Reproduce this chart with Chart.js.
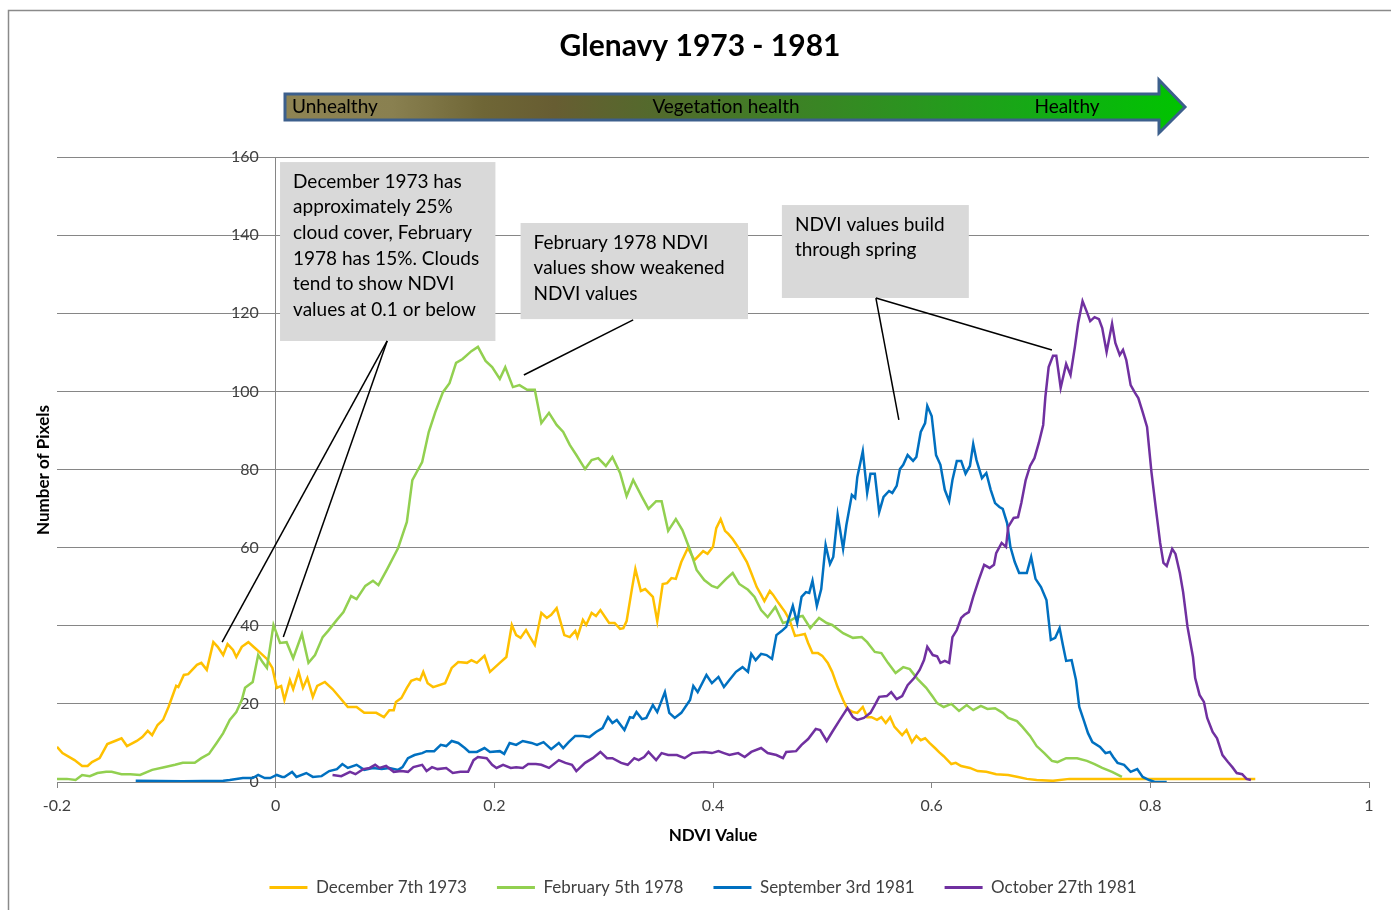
<!DOCTYPE html>
<html><head><meta charset="utf-8">
<script src="https://cdn.jsdelivr.net/npm/chart.js@4.4.1/dist/chart.umd.min.js"></script>
<style>html,body{margin:0;padding:0;background:#fff;}canvas{display:block;}</style>
</head><body>
<canvas id="c" width="1391" height="910"></canvas>
<script>
// ---------- DATA ----------
const xTickValues = [-0.2, 0, 0.2, 0.4, 0.6, 0.8, 1];
const xTickLabels = ['-0.2', '0', '0.2', '0.4', '0.6', '0.8', '1'];
const yTickValues = [0, 20, 40, 60, 80, 100, 120, 140, 160];
const seriesNames = ['December 7th 1973', 'February 5th 1978', 'September 3rd 1981', 'October 27th 1981'];

// [NDVI value, number of pixels]
const dec1973 = [[-0.200,9.0],[-0.195,7.4],[-0.184,5.6],[-0.177,4.1],[-0.172,4.1],[-0.168,5.1],[-0.161,6.1],[-0.154,9.7],[-0.147,10.5],[-0.141,11.2],[-0.136,9.2],[-0.127,10.5],[-0.122,11.5],[-0.117,13.1],[-0.113,12.0],[-0.108,14.6],[-0.103,15.9],[-0.098,19.2],[-0.091,24.6],[-0.089,24.3],[-0.084,27.4],[-0.080,27.6],[-0.072,30.0],[-0.068,30.5],[-0.063,28.7],[-0.057,35.8],[-0.053,34.6],[-0.048,32.5],[-0.044,35.3],[-0.039,33.8],[-0.036,32.0],[-0.031,34.6],[-0.025,35.8],[-0.019,34.3],[-0.015,33.3],[-0.008,31.5],[-0.003,29.2],[0.001,24.1],[0.005,24.6],[0.008,21.0],[0.013,26.1],[0.016,23.8],[0.021,28.2],[0.025,24.1],[0.029,26.6],[0.034,21.8],[0.038,24.6],[0.045,25.6],[0.052,23.8],[0.059,21.5],[0.066,19.2],[0.074,19.2],[0.081,17.7],[0.092,17.7],[0.099,16.6],[0.104,18.4],[0.108,18.4],[0.110,20.5],[0.115,21.5],[0.120,24.1],[0.124,25.9],[0.129,26.4],[0.132,26.1],[0.135,28.2],[0.139,25.3],[0.144,24.3],[0.155,25.3],[0.161,29.2],[0.167,30.7],[0.175,30.5],[0.179,31.2],[0.184,30.5],[0.191,32.3],[0.196,28.2],[0.200,29.2],[0.205,30.5],[0.211,32.0],[0.216,40.2],[0.220,37.6],[0.224,36.9],[0.229,38.9],[0.232,37.4],[0.237,35.1],[0.243,43.3],[0.248,42.0],[0.252,42.8],[0.257,44.5],[0.264,37.6],[0.269,37.1],[0.274,38.7],[0.276,37.1],[0.281,41.5],[0.284,40.2],[0.289,43.3],[0.293,42.5],[0.297,44.0],[0.305,40.7],[0.310,40.7],[0.315,39.2],[0.318,39.4],[0.321,41.2],[0.326,49.7],[0.329,54.5],[0.334,48.9],[0.338,49.4],[0.345,47.4],[0.349,41.2],[0.354,50.7],[0.358,50.9],[0.362,52.2],[0.366,52.0],[0.371,56.3],[0.377,59.9],[0.383,56.8],[0.391,59.1],[0.395,58.4],[0.400,60.2],[0.403,65.0],[0.407,67.3],[0.411,64.3],[0.414,63.5],[0.418,62.2],[0.424,59.7],[0.431,56.3],[0.435,53.5],[0.440,49.9],[0.444,47.9],[0.447,46.3],[0.452,48.9],[0.455,47.9],[0.460,45.8],[0.466,43.5],[0.470,41.5],[0.475,37.4],[0.479,37.6],[0.484,37.9],[0.487,35.6],[0.491,33.0],[0.496,33.0],[0.500,32.3],[0.505,30.5],[0.509,28.2],[0.514,24.3],[0.519,21.0],[0.523,18.7],[0.528,17.9],[0.532,17.7],[0.537,19.2],[0.541,16.6],[0.545,16.6],[0.550,15.9],[0.554,16.6],[0.558,15.1],[0.562,16.6],[0.566,14.1],[0.573,12.0],[0.577,13.3],[0.582,10.2],[0.586,11.8],[0.590,10.7],[0.594,11.2],[0.598,10.0],[0.603,8.7],[0.607,7.6],[0.611,6.6],[0.618,4.6],[0.622,4.9],[0.627,4.1],[0.635,3.6],[0.642,2.8],[0.650,2.6],[0.659,2.0],[0.670,1.8],[0.679,1.3],[0.687,0.8],[0.696,0.5],[0.711,0.3],[0.726,0.8],[0.760,0.8],[0.800,0.8],[0.850,0.8],[0.896,0.8]];

const feb1978 = [[-0.200,0.8],[-0.191,0.8],[-0.183,0.5],[-0.177,1.8],[-0.170,1.5],[-0.163,2.3],[-0.155,2.6],[-0.150,2.6],[-0.141,2.0],[-0.133,2.0],[-0.124,1.8],[-0.113,3.1],[-0.102,3.8],[-0.092,4.4],[-0.085,4.9],[-0.074,4.9],[-0.068,6.1],[-0.061,7.2],[-0.054,10.0],[-0.048,12.5],[-0.042,15.9],[-0.036,17.9],[-0.031,21.0],[-0.028,24.1],[-0.021,25.6],[-0.016,32.5],[-0.012,30.7],[-0.008,29.2],[-0.002,40.2],[0.004,35.6],[0.010,35.8],[0.016,31.7],[0.024,37.9],[0.030,30.5],[0.036,32.5],[0.043,37.1],[0.048,38.7],[0.056,41.5],[0.062,43.5],[0.069,47.6],[0.074,46.8],[0.082,50.2],[0.089,51.5],[0.094,50.4],[0.102,54.5],[0.112,59.9],[0.120,66.6],[0.125,77.3],[0.134,81.9],[0.140,89.6],[0.146,94.7],[0.153,99.8],[0.159,102.1],[0.165,107.3],[0.171,108.3],[0.179,110.3],[0.185,111.4],[0.192,107.8],[0.198,106.2],[0.205,103.2],[0.210,106.2],[0.217,101.1],[0.223,101.6],[0.230,100.4],[0.237,100.4],[0.243,91.9],[0.250,94.5],[0.257,91.4],[0.263,89.6],[0.269,86.3],[0.275,83.7],[0.283,80.1],[0.289,82.4],[0.295,82.9],[0.302,80.9],[0.308,83.2],[0.315,79.1],[0.321,73.2],[0.327,77.3],[0.335,73.0],[0.341,69.9],[0.348,71.9],[0.353,71.9],[0.359,64.3],[0.366,67.3],[0.372,64.5],[0.379,59.4],[0.385,54.3],[0.392,51.7],[0.399,50.2],[0.404,49.7],[0.412,52.0],[0.418,53.5],[0.424,50.7],[0.432,49.2],[0.438,47.4],[0.444,44.0],[0.450,42.2],[0.457,44.8],[0.464,40.7],[0.470,41.2],[0.476,42.2],[0.482,42.5],[0.489,39.4],[0.497,42.0],[0.504,40.7],[0.509,40.2],[0.519,38.1],[0.528,36.9],[0.536,37.1],[0.541,35.8],[0.548,33.3],[0.554,33.0],[0.560,30.5],[0.567,27.9],[0.574,29.4],[0.580,28.9],[0.587,26.4],[0.595,24.1],[0.601,21.8],[0.605,20.2],[0.611,19.2],[0.618,20.0],[0.625,18.2],[0.632,19.7],[0.638,18.4],[0.645,19.5],[0.651,18.7],[0.658,18.9],[0.665,17.7],[0.670,16.4],[0.678,15.6],[0.683,14.1],[0.690,11.8],[0.696,9.2],[0.703,7.4],[0.710,5.4],[0.715,5.1],[0.723,6.1],[0.733,6.1],[0.742,5.4],[0.749,4.6],[0.756,3.6],[0.765,2.6],[0.774,1.3]];

const sep1981 = [[-0.128,0.3],[-0.085,0.2],[-0.048,0.3],[-0.042,0.5],[-0.030,1.0],[-0.021,1.0],[-0.016,1.8],[-0.010,1.0],[-0.005,1.0],[0.001,1.8],[0.006,1.3],[0.008,1.3],[0.015,2.6],[0.019,1.3],[0.028,2.3],[0.034,1.3],[0.042,1.5],[0.049,2.8],[0.056,3.3],[0.061,4.6],[0.066,3.6],[0.074,4.4],[0.081,3.1],[0.089,3.6],[0.097,3.3],[0.104,3.6],[0.112,3.1],[0.116,3.8],[0.121,6.1],[0.127,6.9],[0.134,7.4],[0.138,7.9],[0.145,7.9],[0.151,9.5],[0.156,9.2],[0.161,10.5],[0.167,10.0],[0.173,8.7],[0.177,7.7],[0.184,7.7],[0.191,8.7],[0.196,7.7],[0.205,7.9],[0.209,7.2],[0.214,10.0],[0.220,9.5],[0.226,10.5],[0.234,10.0],[0.239,9.5],[0.245,10.2],[0.252,8.4],[0.259,10.0],[0.263,8.7],[0.268,10.2],[0.274,11.8],[0.281,11.8],[0.287,11.5],[0.293,12.8],[0.299,13.8],[0.304,16.6],[0.308,15.1],[0.312,15.9],[0.319,13.3],[0.324,16.6],[0.327,16.4],[0.330,17.9],[0.335,16.1],[0.339,16.4],[0.345,19.7],[0.349,17.9],[0.356,23.0],[0.360,17.7],[0.365,16.4],[0.371,17.7],[0.379,21.0],[0.382,24.6],[0.386,23.0],[0.394,27.4],[0.399,25.3],[0.405,26.9],[0.410,24.3],[0.415,26.1],[0.421,28.2],[0.427,29.4],[0.432,28.2],[0.435,32.8],[0.439,31.2],[0.444,32.8],[0.449,32.5],[0.454,31.5],[0.458,37.6],[0.463,38.7],[0.467,39.7],[0.473,45.1],[0.477,40.7],[0.481,47.4],[0.485,48.6],[0.488,48.4],[0.491,51.5],[0.495,45.1],[0.499,49.4],[0.503,60.7],[0.507,55.8],[0.510,57.6],[0.514,68.4],[0.519,59.7],[0.522,65.8],[0.527,73.5],[0.530,72.7],[0.532,78.1],[0.537,84.7],[0.541,74.0],[0.544,78.9],[0.548,78.9],[0.552,69.1],[0.556,73.0],[0.561,74.5],[0.564,74.0],[0.568,75.8],[0.571,80.1],[0.574,81.2],[0.578,83.7],[0.583,82.2],[0.586,83.2],[0.590,89.6],[0.594,91.9],[0.596,96.3],[0.600,93.7],[0.604,83.7],[0.608,81.2],[0.612,74.8],[0.616,71.9],[0.619,77.3],[0.623,82.2],[0.627,82.2],[0.631,78.9],[0.635,80.9],[0.638,86.5],[0.641,82.4],[0.646,77.8],[0.650,79.1],[0.654,74.8],[0.658,71.4],[0.662,70.4],[0.665,69.9],[0.669,66.3],[0.672,60.2],[0.676,56.3],[0.680,53.5],[0.687,53.5],[0.691,57.6],[0.695,52.0],[0.700,49.9],[0.705,46.6],[0.709,36.4],[0.713,36.9],[0.717,39.4],[0.720,35.1],[0.723,31.0],[0.728,31.2],[0.732,26.1],[0.735,19.2],[0.739,15.9],[0.743,12.5],[0.747,10.2],[0.754,9.0],[0.759,7.4],[0.763,7.7],[0.766,6.4],[0.770,4.9],[0.776,4.4],[0.782,2.6],[0.788,3.3],[0.793,1.3],[0.799,0.5],[0.804,0.0],[0.815,0.0]];

const oct1981 = [[0.052,1.8],[0.060,1.5],[0.068,2.6],[0.073,2.0],[0.080,3.3],[0.086,3.6],[0.091,4.4],[0.095,3.6],[0.101,4.1],[0.108,2.6],[0.115,2.8],[0.121,2.6],[0.126,3.8],[0.134,4.4],[0.138,2.8],[0.143,3.8],[0.148,3.3],[0.156,3.6],[0.162,2.3],[0.169,2.6],[0.176,2.6],[0.181,5.6],[0.185,6.4],[0.193,6.1],[0.198,4.4],[0.202,3.6],[0.208,4.4],[0.215,3.6],[0.220,3.8],[0.226,3.6],[0.231,4.6],[0.238,4.6],[0.243,4.4],[0.250,3.6],[0.259,5.6],[0.265,4.9],[0.271,4.4],[0.275,2.8],[0.283,4.9],[0.290,6.1],[0.297,7.7],[0.303,6.1],[0.308,6.1],[0.316,4.9],[0.322,4.4],[0.328,6.1],[0.332,5.6],[0.337,6.4],[0.341,7.7],[0.348,5.6],[0.353,7.4],[0.359,6.9],[0.367,6.9],[0.374,6.1],[0.381,7.4],[0.392,7.7],[0.399,7.4],[0.405,7.9],[0.410,7.4],[0.415,6.9],[0.423,7.4],[0.429,6.4],[0.435,7.7],[0.444,8.7],[0.450,7.4],[0.458,6.9],[0.464,6.1],[0.467,7.7],[0.476,7.9],[0.481,9.5],[0.487,11.0],[0.494,13.6],[0.498,13.3],[0.504,10.5],[0.509,12.8],[0.516,15.9],[0.523,18.9],[0.528,16.6],[0.532,15.9],[0.538,16.4],[0.544,17.7],[0.548,19.7],[0.552,21.8],[0.559,22.0],[0.563,23.0],[0.568,21.2],[0.573,22.0],[0.578,24.8],[0.584,26.6],[0.589,28.7],[0.593,31.2],[0.596,34.6],[0.601,32.5],[0.605,32.2],[0.608,30.5],[0.612,31.0],[0.616,30.5],[0.619,37.1],[0.623,38.9],[0.627,42.0],[0.630,42.8],[0.634,43.5],[0.638,47.4],[0.643,51.7],[0.648,55.6],[0.653,54.8],[0.657,55.6],[0.659,58.6],[0.664,61.2],[0.668,60.2],[0.670,65.3],[0.675,67.6],[0.679,67.8],[0.682,71.4],[0.686,77.3],[0.690,80.9],[0.694,82.9],[0.698,86.8],[0.702,91.4],[0.704,98.6],[0.707,106.2],[0.711,109.1],[0.714,109.1],[0.718,100.9],[0.723,107.0],[0.727,104.2],[0.731,111.4],[0.734,117.5],[0.738,123.1],[0.742,120.3],[0.745,118.0],[0.749,119.0],[0.753,118.5],[0.756,116.2],[0.760,110.1],[0.765,117.3],[0.768,112.4],[0.772,109.3],[0.775,110.6],[0.778,108.0],[0.782,101.6],[0.786,99.6],[0.789,98.3],[0.793,94.7],[0.797,90.9],[0.801,79.4],[0.805,70.1],[0.809,61.2],[0.812,56.1],[0.815,55.3],[0.820,59.7],[0.823,58.4],[0.827,53.5],[0.830,48.6],[0.834,39.7],[0.839,32.0],[0.841,26.6],[0.845,22.3],[0.849,20.5],[0.852,16.4],[0.857,12.8],[0.861,11.2],[0.866,6.9],[0.871,5.1],[0.875,3.8],[0.879,2.3],[0.884,2.0],[0.888,0.8],[0.892,0.5]];

const seriesData = [dec1973, feb1978, sep1981, oct1981];
const seriesColors = ['#FFC000', '#92D050', '#0070C0', '#7030A0'];

const titleText = 'Glenavy 1973 - 1981';
const xTitle = 'NDVI Value';
const yTitle = 'Number of Pixels';
const arrowLabels = ['Unhealthy', 'Vegetation health', 'Healthy'];
const noteTexts = [
  ['December 1973 has', 'approximately 25%', 'cloud cover, February', '1978 has 15%. Clouds', 'tend to show NDVI', 'values at 0.1 or below'],
  ['February 1978 NDVI', 'values show weakened', 'NDVI values'],
  ['NDVI values build', 'through spring']
];

// ---------- LAYOUT (annotation boxes in data units) ----------
const noteBoxes = [
  {x0: 0.004, x1: 0.201, yTop: 158.7, yBot: 112.9},
  {x0: 0.224, x1: 0.432, yTop: 143.1, yBot: 118.5},
  {x0: 0.463, x1: 0.634, yTop: 147.7, yBot: 123.9}
];
const noteLines = [
  [[0.102, 112.9], [-0.049, 35.8]],
  [[0.102, 112.9], [0.007, 37.1]],
  [[0.327, 118.3], [0.227, 104.2]],
  [[0.549, 123.9], [0.570, 92.7]],
  [[0.549, 123.9], [0.710, 110.6]]
];
const yLabelOffset = -0.0155; // y tick labels sit just left of the x = 0 axis line

const FONT = "Lato, 'Open Sans', 'DejaVu Sans', sans-serif";
Chart.defaults.font.family = FONT;

const deco = {
  id: 'deco',
  beforeDraw(chart) {
    const ctx = chart.ctx;
    ctx.save();
    ctx.fillStyle = '#fff';
    ctx.fillRect(0, 0, chart.width, chart.height);
    ctx.strokeStyle = '#8a8a8a';
    ctx.lineWidth = 1.5;
    ctx.beginPath();
    ctx.moveTo(8.5, chart.height);
    ctx.lineTo(8.5, 10.5);
    ctx.lineTo(chart.width, 10.5);
    ctx.stroke();
    ctx.restore();
  },
  afterLayout(chart) {
    const l = chart.legend;
    if (l) { l.left -= 10; l.right -= 10; }
  },
  afterDraw(chart) {
    const ctx = chart.ctx;
    const xs = chart.scales.x, ys = chart.scales.y;
    ctx.save();
    // title
    ctx.fillStyle = '#000';
    ctx.font = "bold 30px " + FONT;
    ctx.textAlign = 'center';
    ctx.textBaseline = 'middle';
    ctx.fillText(titleText, 700, 46);

    // arrow
    const g = ctx.createLinearGradient(284, 0, 1186, 0);
    g.addColorStop(0, '#8f8453');
    g.addColorStop(0.12, '#898050');
    g.addColorStop(0.22, '#6f6636');
    g.addColorStop(0.30, '#675d32');
    g.addColorStop(0.41, '#536a2c');
    g.addColorStop(0.55, '#3f7f26');
    g.addColorStop(0.70, '#2a951f');
    g.addColorStop(0.85, '#12ad14');
    g.addColorStop(1, '#00c400');
    ctx.beginPath();
    ctx.moveTo(285, 94);
    ctx.lineTo(1159, 94);
    ctx.lineTo(1159, 80);
    ctx.lineTo(1185, 107);
    ctx.lineTo(1159, 133);
    ctx.lineTo(1159, 120);
    ctx.lineTo(285, 120);
    ctx.closePath();
    ctx.fillStyle = g;
    ctx.fill();
    ctx.strokeStyle = '#3c5f8c';
    ctx.lineWidth = 3;
    ctx.lineJoin = 'miter';
    ctx.stroke();
    ctx.fillStyle = '#000';
    ctx.font = "19px " + FONT;
    ctx.textAlign = 'left';
    ctx.fillText(arrowLabels[0], 292, 107);
    ctx.textAlign = 'center';
    ctx.fillText(arrowLabels[1], 726, 107);
    ctx.fillText(arrowLabels[2], 1067, 107);

    // annotation boxes
    ctx.textAlign = 'left';
    noteBoxes.forEach((b, i) => {
      const l = xs.getPixelForValue(b.x0), r = xs.getPixelForValue(b.x1);
      const t = ys.getPixelForValue(b.yTop), bt = ys.getPixelForValue(b.yBot);
      ctx.fillStyle = '#d9d9d9';
      ctx.fillRect(l, t, r - l, bt - t);
      ctx.fillStyle = '#000';
      ctx.font = "19px " + FONT;
      noteTexts[i].forEach((s, j) => ctx.fillText(s, l + 13, t + 19.5 + j * 25.6));
    });
    ctx.strokeStyle = '#000';
    ctx.lineWidth = 1.5;
    noteLines.forEach(([a, b]) => {
      ctx.beginPath();
      ctx.moveTo(xs.getPixelForValue(a[0]), ys.getPixelForValue(a[1]));
      ctx.lineTo(xs.getPixelForValue(b[0]), ys.getPixelForValue(b[1]));
      ctx.stroke();
    });

    // y axis title
    ctx.translate(44, 470);
    ctx.rotate(-Math.PI / 2);
    ctx.textAlign = 'center';
    ctx.font = "bold 17px " + FONT;
    ctx.fillText(yTitle, 0, 0);
    ctx.restore();
  }
};

const datasets = seriesData.map((d, i) => ({
  label: seriesNames[i],
  data: d.map(p => ({x: p[0], y: p[1]})),
  borderColor: seriesColors[i],
  backgroundColor: seriesColors[i],
  borderWidth: 2.5,
  pointRadius: 0,
  showLine: true,
  tension: 0,
  order: 3 - i
}));

const yTicksBuilder = s => { s.ticks = yTickValues.map(v => ({value: v})); };

new Chart(document.getElementById('c'), {
  type: 'scatter',
  data: {datasets},
  plugins: [deco],
  options: {
    responsive: false,
    animation: false,
    layout: {padding: {left: 57, right: 22, top: 157, bottom: 4}},
    plugins: {
      title: {display: false},
      tooltip: {enabled: false},
      legend: {
        position: 'bottom',
        labels: {
          boxWidth: 38, boxHeight: 3, padding: 30,
          color: '#404040',
          font: {size: 17},
          sort: (a, b) => a.datasetIndex - b.datasetIndex,
          generateLabels: (chart) => Chart.defaults.plugins.legend.labels.generateLabels(chart).map(l => Object.assign(l, {lineWidth: 0}))
        }
      }
    },
    scales: {
      x: {
        type: 'linear', position: 'bottom', min: -0.2, max: 1,
        afterBuildTicks: s => { s.ticks = xTickValues.map(v => ({value: v})); },
        afterFit: s => { s.height = 67; },
        ticks: {callback: (v, i) => xTickLabels[i], color: '#404040', font: {size: 16}, padding: 8, maxRotation: 0},
        grid: {drawOnChartArea: false, drawTicks: true, tickLength: 6, color: '#868686'},
        border: {color: '#868686', width: 1},
        title: {display: true, text: xTitle, color: '#000', font: {size: 17, weight: 'bold'}, padding: {top: 0, bottom: 3}}
      },
      y: {
        type: 'linear', position: {x: 0}, min: 0, max: 160,
        afterBuildTicks: yTicksBuilder,
        ticks: {display: false},
        grid: {drawTicks: false, color: '#868686'},
        border: {color: '#868686', width: 1}
      },
      yLabels: {
        axis: 'y', type: 'linear', position: {x: yLabelOffset}, min: 0, max: 160,
        afterBuildTicks: yTicksBuilder,
        ticks: {color: '#404040', font: {size: 16}},
        grid: {display: false, drawTicks: false},
        border: {display: false}
      }
    }
  }
});
</script>
</body></html>
